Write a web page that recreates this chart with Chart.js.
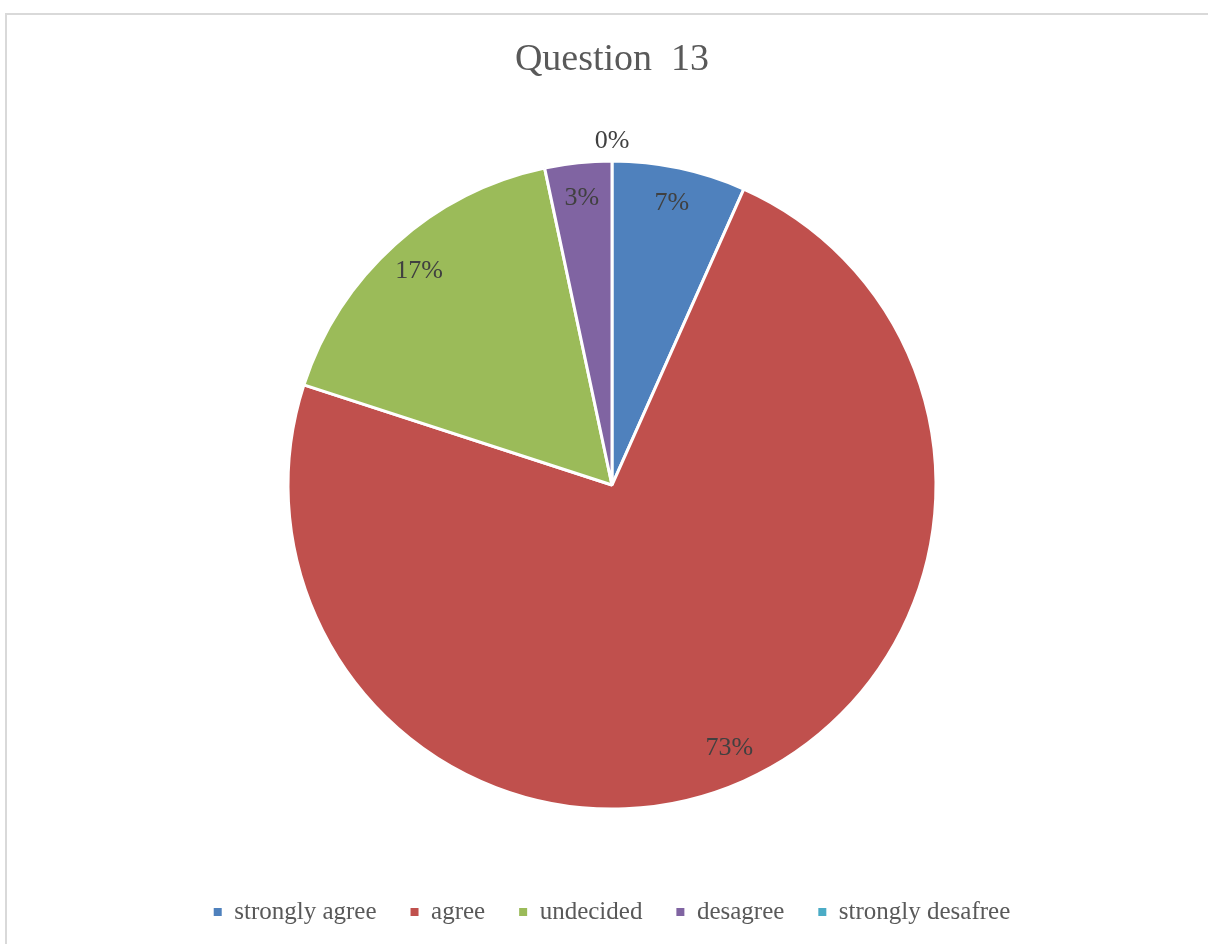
<!DOCTYPE html>
<html>
<head>
<meta charset="utf-8">
<script src="https://cdn.jsdelivr.net/npm/chart.js@4/dist/chart.umd.min.js"></script>
<style>
  html, body { margin: 0; padding: 0; background: #ffffff; }
  #wrap { position: relative; width: 1208px; height: 944px; overflow: hidden; }
  #frame { position: absolute; left: 5px; top: 13px; width: 1300px; height: 1000px;
           border-left: 2px solid #d9d9d9; border-top: 2px solid #d9d9d9; box-sizing: border-box; }
  canvas { position: absolute; left: 0; top: 0; }
</style>
</head>
<body>
<div id="wrap">
  <div id="frame"></div>
  <canvas id="chart" width="1208" height="944"></canvas>
</div>
<script>
// Survey responses for question 13 (counts)
const categories = ['strongly agree', 'agree', 'undecided', 'desagree', 'strongly desafree'];
const responses = [2, 22, 5, 1, 0];
const sliceColors = ['#4F81BD', '#C0504D', '#9BBB59', '#8064A2', '#4BACC6'];

const serif = '"Liberation Serif", "DejaVu Serif", serif';

// Percentage labels placed inside each slice (outside for empty slices)
const percentLabels = {
  id: 'percentLabels',
  afterDatasetsDraw(chart) {
    const { ctx } = chart;
    const meta = chart.getDatasetMeta(0);
    const values = chart.data.datasets[0].data;
    const total = values.reduce((a, b) => a + b, 0);
    ctx.save();
    ctx.font = '26px ' + serif;
    ctx.fillStyle = '#404040';
    ctx.textAlign = 'center';
    ctx.textBaseline = 'middle';
    meta.data.forEach((arc, i) => {
      const { x, y, startAngle, endAngle, outerRadius } = arc.getProps(['x', 'y', 'startAngle', 'endAngle', 'outerRadius'], true);
      const mid = (startAngle + endAngle) / 2;
      const r = values[i] === 0 ? outerRadius + 20 : outerRadius * 0.89;
      const pct = Math.round(values[i] / total * 100) + '%';
      ctx.fillText(pct, x + Math.cos(mid) * r, y + Math.sin(mid) * r);
    });
    ctx.restore();
  }
};

new Chart(document.getElementById('chart'), {
  type: 'pie',
  data: {
    labels: categories,
    datasets: [{
      data: responses,
      backgroundColor: sliceColors,
      borderColor: '#ffffff',
      borderWidth: 3,
      radius: 324
    }]
  },
  options: {
    responsive: false,
    animation: false,
    layout: { padding: { left: 16, right: 0, top: 0, bottom: 9.5 } },
    plugins: {
      title: {
        display: true,
        text: 'Question  13',
        color: '#595959',
        font: { family: serif, size: 38, weight: 'normal' },
        padding: { top: 37, bottom: 22 }
      },
      legend: {
        position: 'bottom',
        labels: {
          color: '#595959',
          font: { family: serif, size: 25 },
          boxWidth: 8,
          boxHeight: 8,
          padding: 34,
          // solid square markers without the slice separator stroke
          generateLabels(chart) {
            const items = Chart.overrides.pie.plugins.legend.labels.generateLabels(chart);
            items.forEach(it => { it.lineWidth = 0; it.strokeStyle = it.fillStyle; });
            return items;
          }
        }
      },
      tooltip: { enabled: false }
    }
  },
  plugins: [percentLabels]
});
</script>
</body>
</html>
